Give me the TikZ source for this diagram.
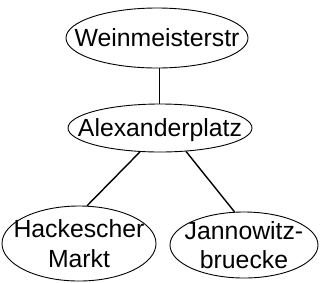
\documentclass[tikz,border=0pt]{standalone}
\usepackage{fontspec}
\setmainfont{Liberation Sans}
\usetikzlibrary{shapes.geometric}
\begin{document}
\begin{tikzpicture}[x=1pt,y=-1pt,
  station/.style={draw, ellipse, inner sep=0pt, line width=0.9pt},
  name text/.style={align=center, inner sep=0pt, font=\fontsize{24.8}{29.5}\selectfont},
  link/.style={line width=1.4pt}]
\useasboundingbox (0,0) rectangle (320,282);
\node[station, minimum width=182pt, minimum height=60pt,
  label={[name text]center:Weinmeisterstr}] (w) at (157,38) {};
\node[station, minimum width=184pt, minimum height=48pt,
  label={[name text, text depth=0pt]center:Alexanderplatz}] (a) at (160,128) {};
\node[station, minimum width=154pt, minimum height=75pt,
  label={[name text]center:Hackescher\\Markt}] (h) at (79,243.5) {};
\node[station, minimum width=148pt, minimum height=66pt,
  label={[name text]center:Jannowitz-\\bruecke}] (j) at (244,245) {};
\draw[link] (w.275.7) -- (w.275.7 |- a.north);
\draw[link] (a.230.8) -- (h.78.8);
\draw[link] (a.318) -- (j.106);
\end{tikzpicture}
\end{document}
